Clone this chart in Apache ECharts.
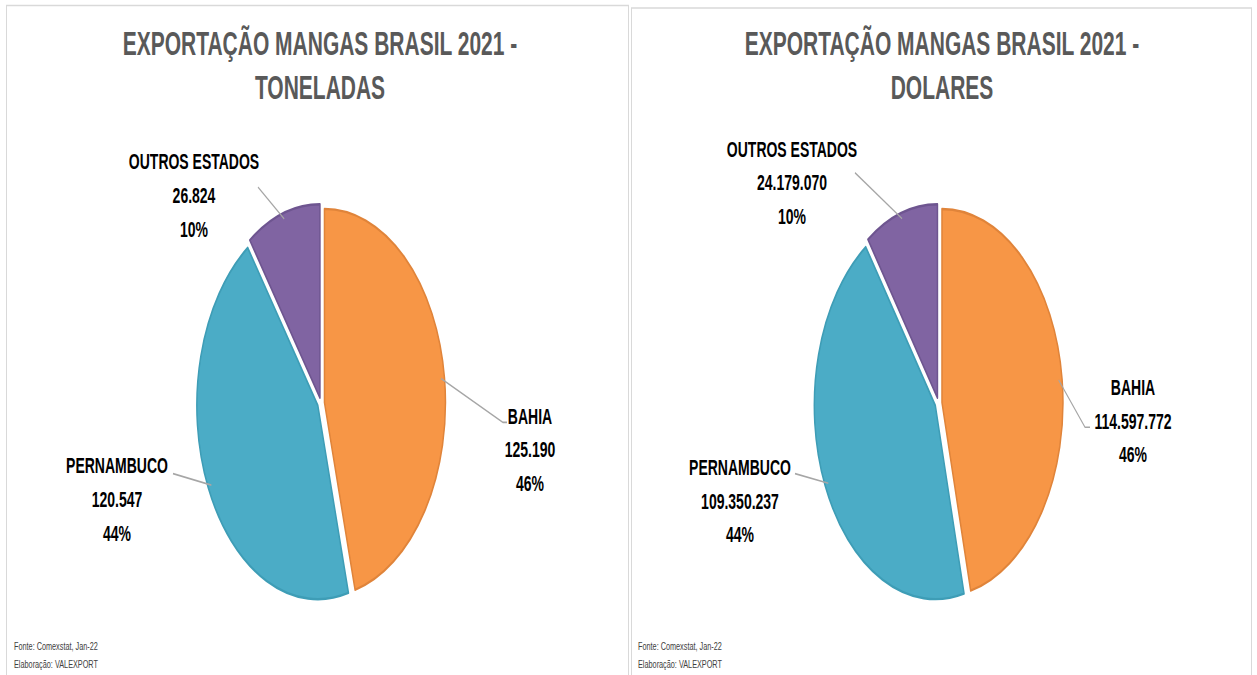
<!DOCTYPE html>
<html>
<head>
<meta charset="utf-8">
<script src="https://cdn.jsdelivr.net/npm/echarts@6/dist/echarts.min.js"></script>
<style>
    html, body { margin: 0; padding: 0; background: #fff; }
    body { width: 1257px; height: 675px; overflow: hidden; position: relative; }
    /* a imagem original está esticada na vertical, então o gráfico também */
    #main { position: absolute; left: 0; top: 0; width: 1257px; height: 422px; transform: scaleY(1.6); transform-origin: 0 0; }
</style>
</head>
<body>
<div id="main"></div>
<script>
// dados
var estados = ['BAHIA', 'PERNAMBUCO', 'OUTROS ESTADOS'];
var toneladas = [125190, 120547, 26824];
var dolares = [114597772, 109350237, 24179070];
var titulos = ['EXPORTAÇÃO MANGAS BRASIL 2021 -\nTONELADAS', 'EXPORTAÇÃO MANGAS BRASIL 2021 -\nDOLARES'];
var fonte = 'Fonte: Comexstat, Jan-22\nElaboração: VALEXPORT';

var cores = ['#F79646', '#4BACC6', '#8064A2'];
var bordas = ['#E0843A', '#3E9DB6', '#6E5590'];

// posição dos rótulos (px do gráfico antes do scaleY)
var rotulos = [
    [
        { x: 530, y: 281, line: [[503, 264], [507, 264]] },
        { x: 117, y: 312, line: [[173, 296]] },
        { x: 194, y: 122, line: [[258, 117]] }
    ],
    [
        { x: 1133, y: 263, line: [[1085, 267], [1090, 267]] },
        { x: 740, y: 313, line: [[795, 296]] },
        { x: 792, y: 114, line: [[855, 108]] }
    ]
];

function milhar(v) {
    return String(v).replace(/\B(?=(\d{3})+(?!\d))/g, '.');
}

// fatias "explodidas" (sem rótulo)
function serieFatias(valores, centro) {
    return {
        type: 'pie',
        center: centro,
        radius: 121,
        startAngle: 90,
        clockwise: true,
        selectedMode: 'multiple',
        selectedOffset: 3.5,
        silent: true,
        animation: false,
        label: { show: false },
        labelLine: { show: false },
        itemStyle: { borderWidth: 1.5 },
        data: estados.map(function (nome, i) {
            return {
                name: nome,
                value: valores[i],
                selected: true,
                itemStyle: { color: cores[i], borderColor: bordas[i] }
            };
        })
    };
}

// mesma pizza, transparente, só para os rótulos
function serieRotulos(valores, centro, idx) {
    return {
        type: 'pie',
        center: centro,
        radius: 121,
        startAngle: 90,
        clockwise: true,
        silent: true,
        animation: false,
        z: 3,
        itemStyle: { color: 'rgba(0,0,0,0)', borderWidth: 0 },
        label: {
            show: true,
            position: 'outside',
            fontFamily: 'Liberation Sans',
            fontWeight: 'bold',
            fontSize: 14,
            lineHeight: 21,
            color: '#000',
            align: 'center',
            formatter: function (p) {
                return p.name + '\n' + milhar(p.value) + '\n' + Math.round(p.percent) + '%';
            }
        },
        labelLine: { show: true, lineStyle: { color: '#a6a6a6', width: 1 } },
        labelLayout: function (p) {
            var r = rotulos[idx][p.dataIndex];
            var res = { x: r.x, y: r.y, align: 'center', verticalAlign: 'middle' };
            if (p.labelLinePoints && p.labelLinePoints.length) {
                res.labelLinePoints = [p.labelLinePoints[0]].concat(r.line);
            }
            return res;
        },
        data: estados.map(function (nome, i) {
            return { name: nome, value: valores[i] };
        })
    };
}

var tituloStyle = {
    fontFamily: 'Liberation Sans',
    fontWeight: 'bold',
    fontSize: 21,
    lineHeight: 27,
    color: '#595959'
};
var fonteStyle = {
    fontFamily: 'Liberation Sans',
    fontWeight: 'normal',
    fontSize: 7.3,
    lineHeight: 11.2,
    color: '#404040'
};

var option = {
    backgroundColor: '#fff',
    title: [
        { text: titulos[0], left: 320, top: 14, textAlign: 'center', padding: 0, textStyle: tituloStyle },
        { text: titulos[1], left: 942, top: 14, textAlign: 'center', padding: 0, textStyle: tituloStyle },
        { text: fonte, left: 14, top: 398, padding: 0, textStyle: fonteStyle },
        { text: fonte, left: 638, top: 398, padding: 0, textStyle: fonteStyle }
    ],
    graphic: [
        { type: 'rect', silent: true, shape: { x: 6.5, y: 3.4, width: 622, height: 430 },
          style: { fill: 'none', stroke: '#d9d9d9', lineWidth: 1 } },
        { type: 'rect', silent: true, shape: { x: 631.5, y: 5, width: 620, height: 430 },
          style: { fill: 'none', stroke: '#d9d9d9', lineWidth: 1 } }
    ],
    series: [
        serieFatias(toneladas, [321, 252]),
        serieFatias(dolares, [938.5, 252]),
        serieRotulos(toneladas, [321, 252], 0),
        serieRotulos(dolares, [938.5, 252], 1)
    ]
};

var myChart = echarts.init(document.getElementById('main'), null, { renderer: 'svg' });
myChart.setOption(option);
</script>
</body>
</html>
